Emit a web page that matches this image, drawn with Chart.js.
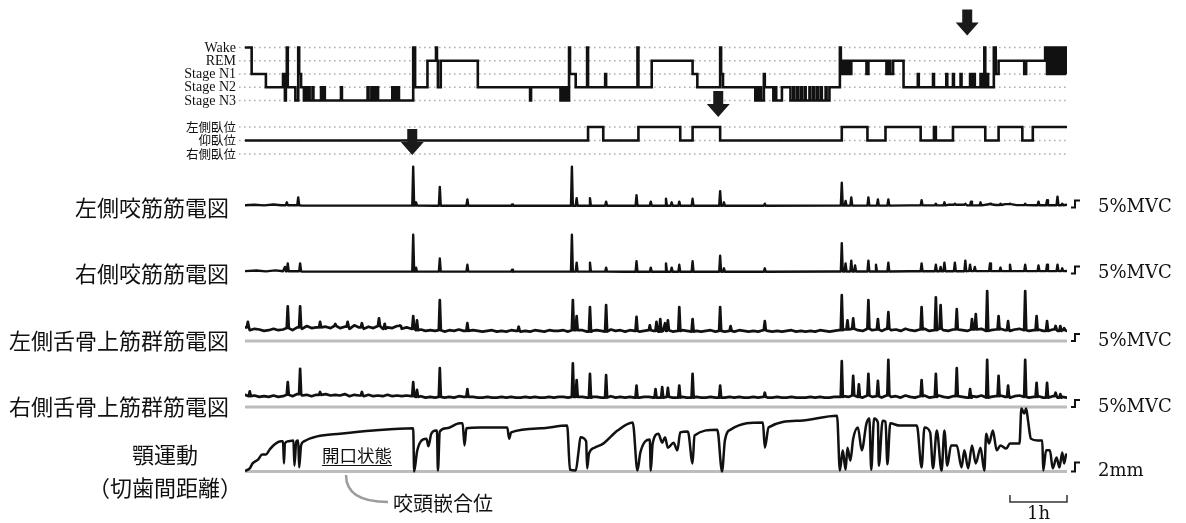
<!DOCTYPE html>
<html><head><meta charset="utf-8">
<script src="https://cdn.jsdelivr.net/npm/chart.js@4.4.0/dist/chart.umd.min.js"></script>
<style>
html,body{margin:0;padding:0;background:#fff;}
#wrap{position:relative;width:1186px;height:523px;}
</style></head><body>
<div id="wrap"><canvas id="c"></canvas></div>
<script>
// ================= DATA (time in minutes from recording start) =================
const T_END = 865;
const stageLabels = ['Stage N3','Stage N2','Stage N1','REM','Wake'];       // code 0..4
const postureLabels = ['右側臥位','仰臥位','左側臥位'];                       // code -1,0,1
const traceLabels = ['左側咬筋筋電図','右側咬筋筋電図','左側舌骨上筋群筋電図','右側舌骨上筋群筋電図'];
const jawLabels = ['顎運動','（切歯間距離）'];
const calLabels = ['5%MVC','5%MVC','5%MVC','5%MVC','2mm'];
const calValues = [5,5,5,5,2];
const scaleBarLabel = '1h';
const scaleBarMinutes = 60;
const openLabel = '開口状態';
const icpLabel = '咬頭嵌合位';

// hypnogram change points [minute, stage code]
const hypnogram = [[0,4],[7,2],[22,1],[40,2],[42,0],[43,2],[44,4],[45,1],[53,0],[56,4],[57,2],[59,1],[62,0],[64,1],[65,0],[67,1],[68,0],[71,1],[72,0],[80,1],[81,0],[83,1],[84,0],[101,1],[102,0],[129,1],[130,0],[133,1],[134,0],[136,1],[137,0],[139,1],[140,0],[155,1],[156,0],[158,1],[159,0],[161,1],[162,0],[177,4],[179,1],[192,3],[201,4],[202,3],[203,1],[206,3],[245,1],[300,0],[301,1],[332,0],[334,1],[336,0],[338,1],[340,0],[341,4],[342,2],[348,1],[360,4],[361,1],[379,2],[380,1],[413,4],[414,1],[428,3],[471,2],[476,1],[500,4],[501,2],[503,1],[537,0],[539,1],[540,0],[542,1],[543,0],[546,2],[547,1],[556,0],[558,1],[559,0],[565,1],[574,0],[577,1],[578,0],[581,1],[582,0],[585,1],[586,0],[589,1],[590,0],[594,1],[595,0],[598,1],[599,0],[602,1],[603,0],[606,1],[607,0],[611,1],[612,0],[615,1],[626,4],[627,2],[629,3],[630,2],[632,3],[633,2],[635,3],[636,2],[638,3],[654,2],[656,3],[675,2],[677,3],[679,2],[682,3],[693,1],[708,2],[709,1],[724,2],[725,1],[738,2],[739,1],[745,2],[746,1],[753,2],[754,1],[763,2],[765,1],[766,2],[768,1],[774,2],[775,1],[777,2],[778,4],[779,1],[781,2],[782,1],[788,4],[790,2],[793,3],[820,2],[822,3],[842,4],[844,2],[845,4],[847,2],[848,4],[850,2],[851,4],[853,2],[854,4],[856,2],[857,4],[859,2],[860,4],[862,2],[863,4],[865,2]];

// body position change points [minute, code]  1=左側臥位 0=仰臥位 -1=右側臥位
const posture = [[0,0],[361,1],[377,0],[414,1],[458,0],[471,1],[500,0],[628,1],[655,0],[674,1],[711,0],[725,1],[727,0],[745,1],[779,0],[793,1],[818,0],[829,1],[865,1]];

// arrow marks (minute)
const arrowTimes = [760, 498, 176];

// masseter EMG: baseline level [minute, %MVC] and bursts [minute, %MVC]
const lMasBase = [[0,0.9],[10,1.3],[20,0.8],[30,1.4],[38,0.9],[60,0.6],[200,0.5],[400,0.5],[620,0.6],[700,0.8],[740,1.2],[760,0.8],[775,1.6],[790,1.1],[800,1.7],[812,1.0],[830,0.9],[865,1.3]];
const lMasSpikes = [[44,3],[56,6.5],[177,28.5],[180,3],[205,14],[234,5],[281,1.5],[344,28.5],[349,6],[363,6],[380,3.5],[412,8],[427,3.5],[443,5.5],[449,3],[457,3.5],[471,5.5],[500,11],[504,3],[547,2],[628,17],[632,4],[638,6.5],[656,6.5],[666,5],[677,5],[712,4.5],[727,2],[736,3],[747,2],[758,2],[764,3.5],[774,3],[784,2],[795,2],[805,2],[821,2],[835,3.5],[844,4.5],[855,7],[860,2]];
const rMasBase = [[0,1.0],[12,1.4],[22,0.8],[32,1.5],[40,0.9],[60,0.6],[400,0.5],[620,0.7],[700,0.9],[760,1.0],[865,1.1]];
const rMasSpikes = [[42,4],[45,6.5],[58,6.5],[177,27],[180,3.5],[205,10],[234,5.5],[281,2],[344,27],[349,7],[363,7],[380,3.5],[412,8],[427,3.5],[443,6.5],[449,3.5],[457,5.5],[471,8],[500,12],[504,3],[547,3],[628,21],[632,6.5],[638,8.5],[642,5],[656,8.5],[664,5.5],[677,7],[712,6.5],[727,5.5],[732,4],[736,7],[747,7],[758,8.5],[763,5.5],[768,4],[784,6.5],[795,3.5],[805,5.5],[821,5.5],[835,5],[844,5.5],[855,5.5],[860,3]];

// suprahyoid EMG: tonic level every 5 min (%MVC) and bursts [minute, %MVC]
const supStep = 5;
const lSupBase = [9,7,8,7.5,6.5,7,8,7,7.5,8.5,7,9,8,10,8.5,9,8,9.5,8.5,
 10,8.5,9.5,8,10.5,9,8,9.5,8.5,10,8,9,8.5,10,8,9,
 8,7,7.5,6.5,7,6.5,7,6,7,6.5,7.5,6.5,6,7,6.5,6,6.5,7,6,6.5,6,7,6.5,6,6.5,6,7,6.5,6,7,6.5,6.5,7,6,
 7,6.5,7,6,6.5,7,6.5,6,7.5,6.5,7,6,7,6.5,6,6.5,7,6.5,6,6.5,7,6,6.5,7,6.5,6,6.5,6,6.5,7,6,6.5,6,6.5,6,7,6.5,6,6.5,6,7,6.5,6,6.5,6,6.5,7,6,6.5,6,6.5,6,7,6.5,6,6.5,7,
 7.5,6.5,8,7,6.5,8,7,7.5,6.5,8,7,7.5,6.5,8,7,6.5,7.5,8,6.5,7,8,7,6.5,7.5,8,7,6.5,7.5,7,8,6.5,7,7.5,8,7,6.5,7.5,8,7,6.5,7,7.5,6.5,7,7.5,6.5,7,6.5];
const lSupSpikes = [[3,13],[45,24],[58,24],[79,13],[95,11.5],[108,13],[123,12],[141,15.5],[147,11.5],[163,10.5],[177,17],[181,14],[205,28.5],[234,12],[288,9.5],[345,28.5],[349,17],[363,23.5],[380,25],[412,16.5],[426,10.5],[433,13],[437,15],[442,12],[445,14],[457,23.5],[471,15],[500,23.5],[511,10],[547,13.5],[628,32],[634,14],[640,15.5],[656,28.5],[666,15],[677,20],[712,23.5],[727,30.5],[732,25],[749,22],[765,15],[769,18.5],[781,35],[793,17],[803,13.5],[821,35],[833,17],[844,13.5],[853,10],[858,10],[862,8.5]];
const rSupBase = [8,7,7.5,6.5,7,6.5,7.5,6.5,7,8,7,8.5,7.5,8,7,8,7.5,8.5,7.5,8,
 7.5,8.5,7,8,7.5,7,8,7,7.5,7,8,7,7.5,7,7.5,7,6.5,7,6,6.5,
 6,6.5,6,6.5,6,7,6.5,6,6.5,6,6,6.5,6,6,6.5,6,6.5,6,6,6.5,
 6,6.5,6,6,6.5,6,6.5,6.5,6,6.5,6,6.5,6,6.5,6.5,6,6,7,6,6.5,
 6,6.5,6,6,6.5,6.5,6,6,6.5,6.5,6,6,6.5,6,6,6.5,6,6,6.5,6,
 6,6,6.5,6,6.5,6,6,6.5,6,6.5,6,6,6.5,6,6,6.5,6,6,6,6.5,
 6,6.5,6,6,6.5,6.5,7,6.5,7.5,6.5,6,7.5,6.5,7,6,7.5,6.5,7,6,7.5,
 6.5,6,7,7.5,6,6.5,7.5,6.5,6,7,7.5,6.5,6,7,6.5,7.5,6,6.5,7,7.5,
 6.5,6,7,7.5,6.5,6,6.5,7,6,6.5,7,6,6.5,6];
const rSupSpikes = [[5,10.5],[45,17],[58,26.5],[79,10],[123,10],[177,17],[181,11.5],[205,27],[234,12],[345,30.5],[349,18.5],[363,23],[380,22],[412,14.5],[432,12],[439,13.5],[445,13],[457,14.5],[471,23],[500,14.5],[547,9.5],[628,32],[640,21.5],[646,15.5],[656,23],[666,18],[677,33],[712,18.5],[727,23],[749,27],[763,12],[781,33],[793,21.5],[803,14.5],[821,33],[833,16.5],[844,16.5],[853,9.5],[858,8.5]];

// jaw movement (inter-incisal distance) [minute, mm]
const jawMovement = [[1,0.2],[5,0.7],[8,1.8],[14,2.7],[18,3.8],[22,3.8],[26,4.9],[31,6.0],[38,6.7],[40,6.7],[41,1.8],[42,6.2],[45,6.7],[51,6.9],[52,1.3],[54,6.7],[56,6.9],[57,0.9],[59,5.8],[62,6.7],[76,7.8],[100,8.4],[135,9.1],[177,9.6],[178,0],[181,4.4],[185,6.7],[191,7.3],[193,5.6],[196,8.4],[201,9.1],[202,9.1],[203,0.2],[205,8.9],[212,9.6],[226,10.7],[229,10.7],[231,5.8],[233,9.6],[247,9.8],[276,9.8],[278,7.3],[280,8.7],[311,9.6],[339,10.2],[342,0.4],[348,0.2],[351,4.4],[353,7.6],[359,6.7],[360,0.7],[362,4.0],[368,5.3],[377,6.2],[392,9.1],[408,10.9],[413,0.2],[416,4.2],[426,7.1],[427,0.2],[429,6.2],[435,8.4],[439,6.4],[442,7.6],[445,5.3],[451,6.4],[455,4.7],[458,8.7],[466,8.9],[471,1.8],[473,8.0],[497,9.3],[502,0],[505,6.9],[511,9.3],[545,10.9],[547,5.3],[551,9.8],[584,11.3],[623,12.4],[626,0.2],[629,4.7],[632,0.4],[634,5.3],[637,2.4],[640,7.3],[645,9.8],[649,4.7],[654,10.7],[657,11.8],[659,0.4],[662,11.8],[666,10.9],[667,1.3],[671,11.3],[674,11.1],[676,1.6],[679,10.7],[689,10.2],[707,10.2],[712,0.9],[715,9.8],[721,8.7],[724,0.7],[728,9.1],[733,0.2],[736,9.1],[739,1.3],[743,5.8],[749,5.8],[754,0.9],[757,4.7],[761,0.7],[765,5.8],[769,1.8],[774,5.3],[778,0.2],[780,8.4],[783,6.2],[787,9.1],[791,4.7],[795,5.8],[801,5.1],[805,6.2],[815,6.2],[817,14.0],[820,12.9],[822,14.0],[824,11.3],[827,7.3],[834,6.9],[839,6.9],[840,0.2],[843,4.7],[847,4.7],[850,0.7],[854,3.1],[857,0.9],[860,4.2],[862,1.8],[864,3.8]];

// ================= LAYOUT =================
const L = {
  stageTop: 47.5, stageGap: 13.25,
  postMid: 140.5, postGap: 13.5,
  rows: [206.5, 272.5, 340, 406], jawZero: 471.5,
  pxPerMVC: 1.4, pxPerMM: 4.5
};
const stageY = s => L.stageTop + (4 - s) * L.stageGap;
const postY = p => L.postMid - p * L.postGap;
const INK = '#111';

function baseAt(base, t){ let v = base[0][1]; for (const [bt,bv] of base){ if (bt <= t) v = bv; else break; } return v; }
function buildEmg(base, spikes, zero, w){
  const px = L.pxPerMVC;
  const pts = base.filter(([t]) => !spikes.some(([st]) => Math.abs(st - t) <= w + 0.3))
                  .map(([t,v]) => ({x:t, y: zero - v*px}));
  for (const [t,a] of spikes){
    const b = baseAt(base, t);
    pts.push({x:t-w, y: zero - b*px}, {x:t, y: zero - a*px}, {x:t+w, y: zero - b*px});
  }
  pts.sort((p,q) => p.x - q.x);
  return pts;
}
const stepBase = arr => arr.map((v,i) => [i*supStep, v]);

const hypPts = hypnogram.map(([t,s]) => ({x:t, y: stageY(s)}));
const postPts = posture.map(([t,p]) => ({x:t, y: postY(p)}));
const lMasPts = buildEmg(lMasBase, lMasSpikes, L.rows[0], 1.0);
const rMasPts = buildEmg(rMasBase, rMasSpikes, L.rows[1], 1.0);
const lSupPts = buildEmg(stepBase(lSupBase), lSupSpikes, L.rows[2], 1.1);
const rSupPts = buildEmg(stepBase(rSupBase), rSupSpikes, L.rows[3], 1.1);
const jawPts = jawMovement.map(([t,mm]) => ({x:t, y: L.jawZero - mm*L.pxPerMM}));

const overlay = {
  id: 'overlay',
  beforeDatasetsDraw(chart){
    const {ctx, scales:{x, y}} = chart;
    const x0 = x.getPixelForValue(0), x1 = x.getPixelForValue(T_END);
    ctx.save();
    ctx.strokeStyle = '#b0b0b0'; ctx.lineWidth = 1.6; ctx.setLineDash([1.6, 3.4]);
    const hl = (py, a, b) => { ctx.beginPath(); ctx.moveTo(a, py); ctx.lineTo(b, py); ctx.stroke(); };
    for (let s = 0; s < 5; s++) hl(y.getPixelForValue(stageY(s)), x0 - 6, x1);
    for (let p = -1; p <= 1; p++) hl(y.getPixelForValue(postY(p)), x0 - 6, x1);
    ctx.setLineDash([]);
    ctx.strokeStyle = '#bcbcbc'; ctx.lineWidth = 2.8;
    for (const z of [L.rows[2] + 1, L.rows[3] + 1, L.jawZero]) hl(y.getPixelForValue(z), x0, x1);
    ctx.restore();
  },
  afterDraw(chart){
    const {ctx, scales:{x, y}} = chart;
    const x1 = x.getPixelForValue(T_END);
    ctx.save();
    ctx.fillStyle = INK; ctx.strokeStyle = INK;
    // stage labels
    ctx.font = '14px "Liberation Serif"'; ctx.textAlign = 'right'; ctx.textBaseline = 'middle';
    stageLabels.forEach((lab, s) => ctx.fillText(lab, 236, y.getPixelForValue(stageY(s)) + 0.5));
    ctx.font = '12.5px "Noto Sans CJK JP"';
    postureLabels.forEach((lab, i) => ctx.fillText(lab, 236, y.getPixelForValue(postY(i - 1))));
    // trace labels
    ctx.font = '22px "Noto Sans CJK JP"';
    traceLabels.forEach((lab, i) => ctx.fillText(lab, 229, y.getPixelForValue(L.rows[i]) + 1));
    ctx.textAlign = 'center';
    ctx.fillText(jawLabels[0], 165, 455);
    ctx.fillText(jawLabels[1], 165, 488);
    // annotations in jaw panel
    ctx.textAlign = 'left';
    ctx.font = '17.5px "Noto Sans CJK JP"';
    ctx.fillText(openLabel, 322, 455);
    const ow = ctx.measureText(openLabel).width;
    ctx.lineWidth = 1.2; ctx.beginPath(); ctx.moveTo(322, 465.5); ctx.lineTo(322 + ow, 465.5); ctx.stroke();
    ctx.font = '20px "Noto Sans CJK JP"';
    ctx.fillText(icpLabel, 393, 503);
    ctx.strokeStyle = '#9c9c9c'; ctx.lineWidth = 2.5;
    ctx.beginPath(); ctx.moveTo(346, 475); ctx.bezierCurveTo(346, 492, 358, 502, 388, 502); ctx.stroke();
    // arrows
    ctx.fillStyle = '#1a1a1a';
    const tips = [stageY(4) - 12, postY(1) - 10, postY(-1) + 1];
    arrowTimes.forEach((t, i) => {
      const cx = x.getPixelForValue(t), tip = y.getPixelForValue(tips[i]);
      ctx.beginPath();
      ctx.moveTo(cx - 5, tip - 26); ctx.lineTo(cx + 5, tip - 26); ctx.lineTo(cx + 5, tip - 13);
      ctx.lineTo(cx + 11.5, tip - 13); ctx.lineTo(cx, tip); ctx.lineTo(cx - 11.5, tip - 13);
      ctx.lineTo(cx - 5, tip - 13); ctx.closePath(); ctx.fill();
    });
    // calibration marks and labels
    ctx.strokeStyle = INK; ctx.fillStyle = INK; ctx.lineWidth = 2;
    const zeros = [L.rows[0] + 1, L.rows[1] + 1, L.rows[2] + 1, L.rows[3] + 1, L.jawZero];
    ctx.font = '18px "DejaVu Serif"'; ctx.textAlign = 'left'; ctx.textBaseline = 'middle';
    zeros.forEach((z, i) => {
      const h = (i < 4 ? L.pxPerMVC : L.pxPerMM) * calValues[i];
      const b = y.getPixelForValue(z);
      ctx.beginPath(); ctx.moveTo(x1 + 4, b); ctx.lineTo(x1 + 8, b); ctx.lineTo(x1 + 8, b - h); ctx.lineTo(x1 + 13, b - h); ctx.stroke();
      ctx.fillText(calLabels[i], 1098, b);
    });
    // 1h scale bar
    const bx0 = x.getPixelForValue(T_END - scaleBarMinutes), bx1 = x1;
    ctx.lineWidth = 1.5; ctx.strokeStyle = '#333';
    ctx.beginPath(); ctx.moveTo(bx0, 495); ctx.lineTo(bx0, 502); ctx.lineTo(bx1, 502); ctx.lineTo(bx1, 495); ctx.stroke();
    ctx.textAlign = 'center'; ctx.fillText(scaleBarLabel, (bx0 + bx1) / 2, 514);
    ctx.restore();
  }
};

const ds = (data, extra) => Object.assign({data, borderColor: INK, borderWidth: 2.4, pointRadius: 0, tension: 0,
  borderJoinStyle: 'round', borderCapStyle: 'round', fill: false}, extra || {});

new Chart(document.getElementById('c'), {
  type: 'line',
  data: { datasets: [
    ds(hypPts, {stepped: true, borderWidth: 2.6, borderJoinStyle: 'miter', borderCapStyle: 'butt'}),
    ds(postPts, {stepped: true, borderWidth: 2.6, borderJoinStyle: 'miter', borderCapStyle: 'butt'}),
    ds(lMasPts),
    ds(rMasPts),
    ds(lSupPts, {borderWidth: 2.7}),
    ds(rSupPts, {borderWidth: 2.7}),
    ds(jawPts, {borderWidth: 2.5, cubicInterpolationMode: 'monotone'})
  ]},
  options: {
    responsive: true, maintainAspectRatio: false, animation: false,
    layout: {padding: {left: 245, right: 119, top: 0, bottom: 0}},
    scales: {
      x: {type: 'linear', min: 0, max: T_END, display: false},
      y: {type: 'linear', min: 0, max: 523, reverse: true, display: false}
    },
    plugins: {legend: {display: false}, tooltip: {enabled: false}},
    events: []
  },
  plugins: [overlay]
});
</script>
</body></html>
